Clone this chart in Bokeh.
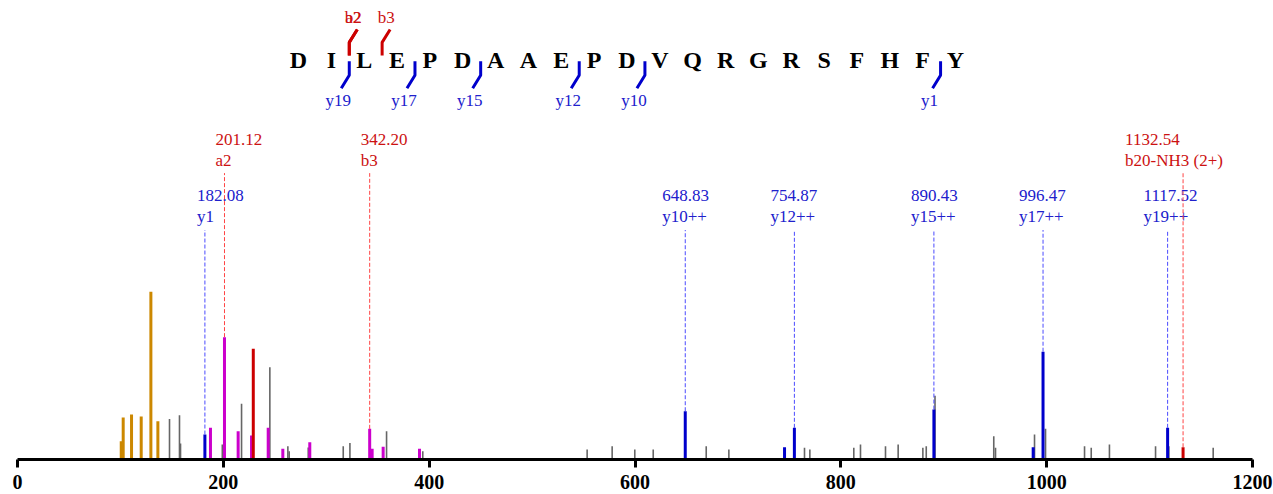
from bokeh.plotting import figure
from bokeh.models import Range1d, FixedTicker
from bokeh.core.properties import value
from bokeh.embed import file_html
from bokeh.resources import INLINE

# ---------------- data ----------------
SEQUENCE = list("DILEPDAAEPDVQRGRSFHFY")
# cleavage sites = number of N-terminal residues before the break
N_FRAG_LABELS = ["a2", "b2", "b3"]
N_FRAG_SITES = [2, 2, 3]
C_FRAG_LABELS = ["y19", "y17", "y15", "y12", "y10", "y1"]
C_FRAG_SITES = [2, 4, 6, 9, 11, 20]

# annotated peaks
ANN_MZ = [182.08, 201.12, 342.20, 648.83, 754.87, 890.43, 996.47, 1117.52, 1132.54]
ANN_ION = ["y1", "a2", "b3", "y10++", "y12++", "y15++", "y17++", "y19++", "b20-NH3 (2+)"]
ANN_SERIES = ["y", "b", "b", "y", "y", "y", "y", "y", "b"]
ANN_INT = [14.9, 73.0, 18.3, 28.8, 18.9, 29.8, 64.3, 18.9, 7.3]
ANN_BAR = ["blue", "magenta", "magenta", "blue", "blue", "blue", "blue", "blue", "red"]

# other coloured peaks
ORANGE_MZ = [100.8, 102.7, 110.8, 120.2, 129.6, 136.4]
ORANGE_INT = [10.9, 25.0, 26.8, 25.6, 100.0, 22.8]
MAGENTA_MZ = [187.5, 214.4, 227.4, 243.6, 257.8, 284.0, 344.6, 355.3, 390.6]
MAGENTA_INT = [18.9, 16.8, 14.3, 18.9, 6.4, 10.3, 6.4, 7.6, 6.4]
RED_MZ = [229.1]
RED_INT = [66.0]
BLUE_MZ = [745.3, 986.9]
BLUE_INT = [7.3, 7.3]

# unassigned peaks
GRAY_MZ = [147.7, 157.4, 158.4, 199.0, 217.7, 245.2, 262.7, 264.0, 282.5, 316.5,
           323.0, 358.6, 393.8, 553.5, 577.8, 599.8, 617.7, 669.2, 691.2, 764.7,
           769.9, 812.6, 819.1, 843.4, 855.7, 879.7, 883.0, 891.5, 948.6, 950.3,
           988.2, 998.9, 1036.8, 1043.3, 1061.0, 1105.8, 1118.7, 1161.8]
GRAY_INT = [24.2, 26.4, 9.5, 8.9, 33.3, 55.0, 7.9, 4.9, 7.1, 7.9,
            9.9, 16.8, 4.9, 6.0, 7.9, 6.0, 6.0, 7.9, 6.0, 7.0,
            6.0, 7.0, 8.9, 7.9, 8.9, 7.0, 7.9, 38.0, 13.9, 7.0,
            14.9, 18.3, 7.9, 7.0, 8.9, 7.9, 7.9, 7.0]

X_TICKS = [0, 200, 400, 600, 800, 1000, 1200]

# ---------------- styles / layout ----------------
COL = {"orange": "#CC8800", "magenta": "#CC00CC", "red": "#CC0000",
       "blue": "#0000CC", "gray": "#666666"}
TXT_Y = "#2020CC"
TXT_B = "#CC1111"
DASH_Y = "#4B4BFF"
DASH_B = "#FF4444"
FONT = "Liberation Serif"

W, H = 1273, 491
FRAME_H = 460
SCALE = 1.68          # px per % intensity
PX = 1200 / 1235.0    # data units per horizontal pixel

p = figure(width=W, height=H, output_backend="svg", toolbar_location=None,
           x_range=Range1d(0, 1200), y_range=Range1d(0, FRAME_H),
           y_axis_location=None, min_border_left=17, min_border_right=21,
           min_border_top=0, min_border_bottom=0)
p.grid.visible = False
p.outline_line_color = None
p.background_fill_color = "white"

ax = p.xaxis[0]
ax.ticker = FixedTicker(ticks=X_TICKS)
ax.axis_line_width = 3
ax.axis_line_color = "black"
ax.major_tick_line_width = 3
ax.major_tick_line_color = "black"
ax.major_tick_in = 0
ax.major_tick_out = 8
ax.minor_tick_line_color = None
ax.major_label_text_font = FONT
ax.major_label_text_font_style = "bold"
ax.major_label_text_font_size = "20px"
ax.major_label_text_color = "black"
ax.major_label_standoff = 7


def bars(mz, inten, color, lw):
    p.segment(x0=mz, y0=[0] * len(mz), x1=mz, y1=[i * SCALE for i in inten],
              line_color=color, line_width=lw)


bars(GRAY_MZ, GRAY_INT, COL["gray"], 1.6)
bars(ORANGE_MZ, ORANGE_INT, COL["orange"], 3)
bars(MAGENTA_MZ, MAGENTA_INT, COL["magenta"], 3)
bars(RED_MZ, RED_INT, COL["red"], 3)
bars(BLUE_MZ, BLUE_INT, COL["blue"], 3)
bars(ANN_MZ, ANN_INT, [COL[c] for c in ANN_BAR], 3)

# dashed leader lines and labels
LABEL_DX = [-8, -9, -9, -23, -24, -23, -24, -24, -58]   # px offset of label left edge
for mz, ion, ser, it, dx in zip(ANN_MZ, ANN_ION, ANN_SERIES, ANN_INT, LABEL_DX):
    is_y = ser == "y"
    top = 230 if is_y else 287
    y1 = 265 if is_y else 321
    y2 = 244 if is_y else 300
    p.segment(x0=[mz], y0=[it * SCALE], x1=[mz], y1=[top],
              line_color=DASH_Y if is_y else DASH_B, line_width=1, line_dash="4 2")
    p.text(x=[mz, mz], y=[y1, y2], text=["%.2f" % mz, ion], x_offset=dx,
           text_align="left", text_baseline="middle",
           text_font=value(FONT), text_font_size="17px",
           text_color=TXT_Y if is_y else TXT_B)

# sequence diagram
SEQ_X0 = (298 - 17) * PX
SEQ_DX = 32.85 * PX
SEQ_Y = 400
p.text(x=[SEQ_X0 + i * SEQ_DX for i in range(len(SEQUENCE))], y=[SEQ_Y] * len(SEQUENCE),
       text=SEQUENCE, text_align="center", text_baseline="middle",
       text_font=value(FONT), text_font_style="bold", text_font_size="24px",
       text_color="black")

# C-terminal (y) markers: below-left
cx = [SEQ_X0 + (s - 0.5) * SEQ_DX + 1.5 * PX for s in C_FRAG_SITES]
p.multi_line(xs=[[x, x, x - 8 * PX] for x in cx],
             ys=[[399, 385, 372] for _ in cx], line_color=COL["blue"], line_width=3)
p.text(x=cx, y=[360] * len(cx), text=C_FRAG_LABELS, x_offset=-11,
       text_align="center", text_baseline="middle", text_font=value(FONT),
       text_font_size="17px", text_color=TXT_Y)

# N-terminal (a/b) markers: above-right
nx = [SEQ_X0 + (s - 0.5) * SEQ_DX + 1.5 * PX for s in N_FRAG_SITES]
p.multi_line(xs=[[x, x, x + 8 * PX] for x in nx],
             ys=[[405, 418, 431] for _ in nx], line_color=COL["red"], line_width=3)
p.text(x=nx, y=[443] * len(nx), text=N_FRAG_LABELS, x_offset=4,
       text_align="center", text_baseline="middle", text_font=value(FONT),
       text_font_size="17px", text_color=TXT_B)

open("out.html", "w").write(file_html(p, INLINE))
